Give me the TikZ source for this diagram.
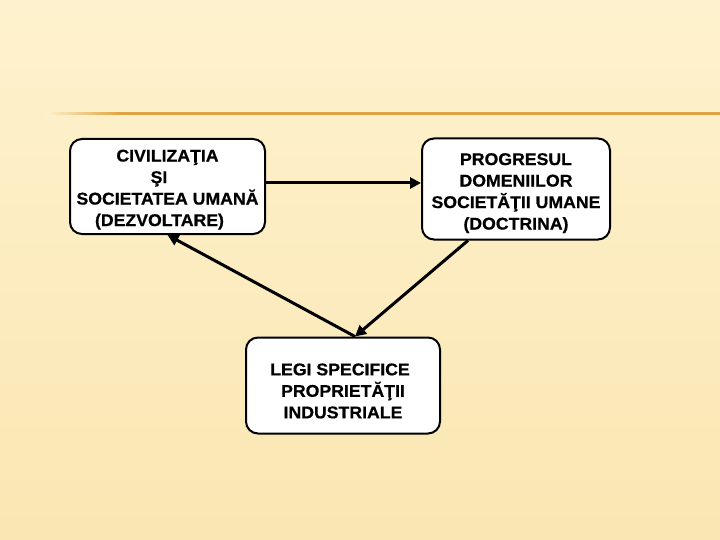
\documentclass[tikz,border=0pt]{standalone}
\usepackage{fontspec}
\newfontfamily\boxfont{Liberation Sans Bold}[FakeStretch=1.04,FakeBold=0.6]
\usetikzlibrary{arrows.meta,positioning}
\definecolor{paper}{HTML}{FEF2CE}
\definecolor{paperlow}{HTML}{FAE6B2}
\definecolor{rule}{HTML}{E0A344}
\newcommand\boxlines[2][4pt]{\raisebox{-#1}[\height][\depth]{\begin{tabular}{@{}c@{}}#2\end{tabular}}}
\begin{document}
\begin{tikzpicture}[x=1pt,y=-1pt,
    box/.style={draw=black,line width=2pt,fill=white,rounded corners=12pt,
      inner sep=0pt,font=\boxfont\fontsize{17}{21.5}\selectfont},
    link/.style={line width=3pt,-{Triangle[length=11pt,width=11pt]}}]
  % background
  \shade[top color=paper,bottom color=paperlow] (0,0) rectangle (720,540);
  \fill[left color=paper,right color=rule] (45,112.5) rectangle (120,115);
  \fill[rule] (120,112.5) rectangle (720,115);

  \node[box,minimum width=195pt,minimum height=95pt] (civ) at (167.5,186.5)
    {\boxlines[3pt]{CIVILIZAŢIA\\ŞI\rule{17pt}{0pt}\\SOCIETATEA UMANĂ\\(DEZVOLTARE)\rule{16pt}{0pt}}};
  \node[box,minimum width=188pt,minimum height=101pt] (prog) at (516,189)
    {\boxlines{PROGRESUL\\DOMENIILOR\\SOCIETĂŢII UMANE\\(DOCTRINA)}};
  \node[box,minimum width=194pt,minimum height=96pt] (legi) at (343,385.5)
    {\boxlines[7pt]{LEGI SPECIFICE\rule{6pt}{0pt}\\PROPRIETĂŢII\\INDUSTRIALE}};

  \draw[link] (civ.east |- 0,183) -- (prog.west |- 0,183);
  \draw[link] ([xshift=12pt]legi.north) -- (civ.south);
  \draw[link] ([xshift=-48pt]prog.south) -- ([xshift=12pt]legi.north);
\end{tikzpicture}
\end{document}
